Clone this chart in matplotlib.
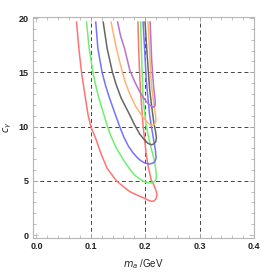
import matplotlib
matplotlib.use("Agg")
import matplotlib.pyplot as plt
from matplotlib.ticker import MultipleLocator

# Contour curves: (m_a [GeV], c_gamma)
red_x = [0.0737, 0.078, 0.0829, 0.088, 0.095, 0.100, 0.109, 0.1195, 0.130, 0.147, 0.160, 0.1716, 0.185, 0.197, 0.206, 0.212, 0.2165, 0.220, 0.2216, 0.2205, 0.216, 0.211, 0.206, 0.202, 0.196, 0.191, 0.188, 0.1866]
red_y = [19.7, 17.2, 15.0, 13.3, 11.07, 10.0, 8.9, 7.4, 6.15, 5.0, 4.45, 4.0, 3.68, 3.42, 3.2, 3.1, 3.15, 3.35, 3.65, 4.0, 4.6, 5.07, 6.2, 7.4, 10.1, 13.5, 17.0, 19.7]

green_x = [0.092, 0.097, 0.104, 0.108, 0.115, 0.1306, 0.138, 0.147, 0.162, 0.172, 0.181, 0.191, 0.1995, 0.207, 0.213, 0.2175, 0.2200, 0.2205, 0.2195, 0.2174, 0.2125, 0.208, 0.202, 0.196, 0.193, 0.1916]
green_y = [19.7, 17.2, 15.0, 14.0, 12.6, 10.0, 9.0, 8.0, 6.76, 6.05, 5.5, 5.13, 4.9, 4.8, 4.8, 4.95, 5.2, 5.5, 5.95, 6.76, 7.7, 8.6, 10.0, 12.6, 17.0, 19.7]

blue_x = [0.109, 0.113, 0.1207, 0.127, 0.1345, 0.153, 0.161, 0.169, 0.178, 0.187, 0.194, 0.200, 0.208, 0.2140, 0.218, 0.2200, 0.2185, 0.216, 0.212, 0.208, 0.202, 0.199, 0.196]
blue_y = [19.7, 17.2, 15.0, 13.8, 12.6, 10.0, 9.0, 8.2, 7.55, 7.05, 6.78, 6.62, 6.55, 6.62, 6.8, 7.1, 7.9, 8.6, 9.8, 11.1, 14.2, 17.0, 19.7]

black_x = [0.1226, 0.130, 0.1398, 0.147, 0.156, 0.1716, 0.180, 0.190, 0.198, 0.205, 0.2115, 0.2160, 0.2195, 0.2205, 0.2188, 0.216, 0.212, 0.208, 0.203, 0.1996]
black_y = [19.7, 17.2, 15.0, 13.8, 12.6, 11.07, 10.2, 9.3, 8.8, 8.45, 8.32, 8.4, 8.6, 9.0, 9.6, 10.3, 11.8, 13.5, 17.0, 19.7]

orange_x = [0.137, 0.147, 0.158, 0.164, 0.1716, 0.182, 0.193, 0.200, 0.206, 0.211, 0.2155, 0.2188, 0.2197, 0.2185, 0.216, 0.211, 0.208, 0.205]
orange_y = [19.7, 17.2, 15.0, 14.0, 13.0, 11.9, 11.07, 10.6, 10.3, 10.12, 10.15, 10.35, 10.7, 11.2, 12.0, 14.0, 17.0, 19.7]

purple_x = [0.149, 0.155, 0.162, 0.1716, 0.181, 0.190, 0.197, 0.202, 0.208, 0.2125, 0.2162, 0.2182, 0.2185, 0.2172, 0.2155, 0.212, 0.209]
purple_y = [19.7, 18.3, 17.2, 15.2, 14.1, 13.2, 12.65, 12.3, 12.0, 11.82, 11.8, 11.95, 12.25, 12.9, 13.6, 16.0, 19.7]

curves = [
    (red_x, red_y, "#ff7373"),
    (green_x, green_y, "#6ef06e"),
    (blue_x, blue_y, "#7373ff"),
    (black_x, black_y, "#666666"),
    (orange_x, orange_y, "#ffb373"),
    (purple_x, purple_y, "#b673cc"),
]

x_ticks = [0.0, 0.1, 0.2, 0.3, 0.4]
x_ticklabels = ["0.0", "0.1", "0.2", "0.3", "0.4"]
y_ticks = [0, 5, 10, 15, 20]
y_ticklabels = ["0", "5", "10", "15", "20"]

fig = plt.figure(figsize=(2.72, 2.73), dpi=100)
ax = fig.add_axes([0.121, 0.128, 0.813, 0.809])

for xs, ys, c in curves:
    ax.plot(xs, ys, color=c, lw=1.1, solid_joinstyle="round", solid_capstyle="butt")

ax.set_xlim(-0.0064, 0.4)
ax.set_ylim(-0.28, 20.08)

ax.set_xticks(x_ticks)
ax.set_xticklabels(x_ticklabels)
ax.set_yticks(y_ticks)
ax.set_yticklabels(y_ticklabels)
ax.xaxis.set_minor_locator(MultipleLocator(0.02))
ax.yaxis.set_minor_locator(MultipleLocator(1))

for s in ax.spines.values():
    s.set_color("#b5b5b5")
    s.set_linewidth(0.8)

ax.tick_params(which="both", direction="in", top=True, right=True,
               color="#b5b5b5", width=0.6)
ax.tick_params(which="major", length=3.5, labelsize=6.5, pad=3, labelcolor="#222222")
ax.tick_params(which="minor", length=2)
for lab in ax.get_xticklabels() + ax.get_yticklabels():
    lab.set_fontweight("bold")
    lab.set_family("Liberation Sans")

for xv in [0.1, 0.2, 0.3]:
    ax.axvline(xv, color="#444444", lw=0.7, ls=(0, (4, 3)), zorder=0.5)
for yv in [5, 10, 15]:
    ax.axhline(yv, color="#444444", lw=0.7, ls=(0, (4, 3)), zorder=0.5)

ax.set_xlabel(r"$m_a$ /GeV", fontsize=7, family="Liberation Sans", labelpad=4, color="#222222")
ax.set_ylabel(r"$c_\gamma$", fontsize=7, labelpad=3, color="#222222")

fig.savefig("out.png", dpi=100)
